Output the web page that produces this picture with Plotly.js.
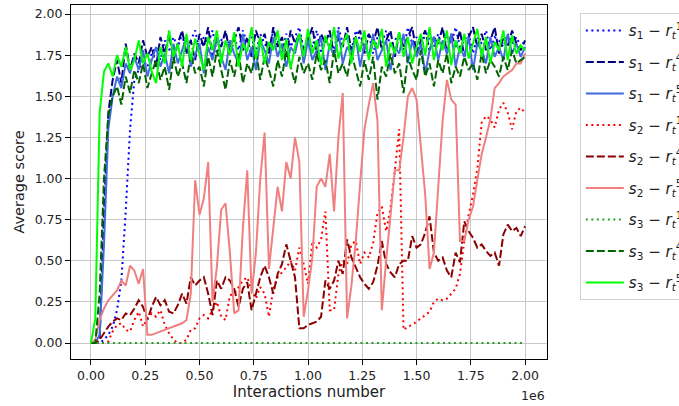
<!DOCTYPE html>
<html>
<head>
<meta charset="utf-8">
<script src="https://cdn.plot.ly/plotly-3.0.1.min.js"></script>
<style>html,body{margin:0;padding:0;background:#fff;overflow:hidden}#chart{width:679px;height:406px}</style>
</head>
<body>
<div id="chart"></div>
<script>
// Interactions (in units of 1e6)
const interactions = [
0,0.02,0.04,0.06,0.08,0.10,0.12,0.14,0.16,0.18,
0.20,0.22,0.24,0.26,0.28,0.30,0.32,0.34,0.36,0.38,
0.40,0.42,0.44,0.46,0.48,0.50,0.52,0.54,0.56,0.58,
0.60,0.62,0.64,0.66,0.68,0.70,0.72,0.74,0.76,0.78,
0.80,0.82,0.84,0.86,0.88,0.90,0.92,0.94,0.96,0.98,
1.00,1.02,1.04,1.06,1.08,1.10,1.12,1.14,1.16,1.18,
1.20,1.22,1.24,1.26,1.28,1.30,1.32,1.34,1.36,1.38,
1.40,1.42,1.44,1.46,1.48,1.50,1.52,1.54,1.56,1.58,
1.60,1.62,1.64,1.66,1.68,1.70,1.72,1.74,1.76,1.78,
1.80,1.82,1.84,1.86,1.88,1.90,1.92,1.94,1.96,1.98,
2.00];

const s1_r1 = [
0,0,0,0.02,0.05,0.10,0.20,0.38,0.80,1.30,
1.60,1.66,1.72,1.68,1.76,1.80,1.72,1.84,1.78,1.86,
1.80,1.88,1.76,1.84,1.90,1.78,1.86,1.82,1.90,1.76,
1.84,1.88,1.80,1.86,1.78,1.90,1.82,1.86,1.76,1.88,
1.82,1.78,1.90,1.84,1.76,1.88,1.80,1.86,1.92,1.78,
1.86,1.80,1.90,1.76,1.84,1.88,1.78,1.92,1.82,1.86,
1.78,1.90,1.84,1.80,1.88,1.76,1.86,1.82,1.90,1.80,
1.84,1.88,1.78,1.92,1.82,1.86,1.76,1.90,1.84,1.80,
1.88,1.78,1.86,1.82,1.92,1.80,1.84,1.88,1.76,1.86,
1.82,1.90,1.78,1.86,1.84,1.80,1.88,1.82,1.86,1.80,
1.84];

const s1_r4 = [
0,0,0.02,0.80,1.40,1.60,1.72,1.58,1.82,1.66,
1.76,1.70,1.84,1.74,1.80,1.68,1.86,1.76,1.88,1.72,
1.82,1.90,1.76,1.84,1.72,1.88,1.80,1.92,1.74,1.86,
1.80,1.90,1.76,1.84,1.92,1.78,1.86,1.74,1.90,1.82,
1.88,1.76,1.92,1.80,1.86,1.74,1.90,1.82,1.88,1.78,
1.84,1.92,1.76,1.88,1.82,1.90,1.74,1.86,1.80,1.92,
1.78,1.86,1.90,1.76,1.88,1.82,1.92,1.78,1.84,1.90,
1.74,1.88,1.80,1.86,1.92,1.76,1.84,1.90,1.78,1.86,
1.82,1.92,1.76,1.88,1.80,1.90,1.74,1.86,1.92,1.80,
1.88,1.78,1.84,1.92,1.76,1.86,1.80,1.90,1.82,1.78,
1.84];

const s1_r5 = [
0,0,0.05,0.60,1.30,1.50,1.62,1.55,1.70,1.64,
1.74,1.66,1.78,1.62,1.72,1.80,1.68,1.76,1.64,1.82,
1.70,1.78,1.86,1.68,1.75,1.82,1.64,1.80,1.72,1.86,
1.74,1.66,1.84,1.76,1.70,1.88,1.72,1.80,1.66,1.84,
1.78,1.70,1.86,1.74,1.82,1.68,1.80,1.76,1.88,1.70,
1.84,1.72,1.78,1.86,1.66,1.82,1.74,1.90,1.70,1.80,
1.76,1.86,1.68,1.82,1.74,1.88,1.72,1.78,1.84,1.66,
1.80,1.76,1.88,1.70,1.84,1.74,1.82,1.64,1.78,1.86,
1.72,1.84,1.76,1.88,1.68,1.80,1.74,1.86,1.66,1.82,
1.78,1.70,1.86,1.74,1.80,1.72,1.88,1.76,1.82,1.74,
1.80];

const s2_r1 = [
0,0,0,0,0.01,0.07,0.11,0.12,0.08,0.07,
0.14,0.19,0.10,0.15,0.18,0.16,0.20,0.11,0.06,0.02,
0.00,0.00,0.02,0.08,0.09,0.15,0.17,0.15,0.20,0.25,
0.16,0.14,0.29,0.30,0.34,0.38,0.40,0.32,0.27,0.34,
0.30,0.16,0.33,0.40,0.43,0.46,0.50,0.44,0.58,0.48,
0.36,0.62,0.58,0.63,0.80,0.20,0.20,0.42,0.50,0.48,
0.60,0.62,0.48,0.55,0.52,0.61,0.79,0.83,0.68,0.82,
1.05,1.30,0.08,0.10,0.11,0.13,0.15,0.17,0.19,0.25,
0.27,0.26,0.27,0.30,0.33,0.42,0.62,0.78,0.90,1.06,
1.34,1.38,1.36,1.31,1.42,1.46,1.40,1.30,1.41,1.43,
1.40];

const s2_r4 = [
0,0,0.02,0.06,0.10,0.13,0.15,0.14,0.18,0.17,
0.21,0.26,0.22,0.14,0.22,0.28,0.23,0.26,0.19,0.18,
0.23,0.30,0.24,0.40,0.35,0.38,0.40,0.30,0.17,0.38,
0.33,0.40,0.38,0.33,0.22,0.33,0.37,0.20,0.30,0.40,
0.47,0.40,0.30,0.42,0.48,0.60,0.50,0.40,0.09,0.09,
0.11,0.12,0.13,0.16,0.38,0.33,0.38,0.50,0.42,0.63,
0.52,0.46,0.40,0.36,0.33,0.37,0.47,0.62,0.48,0.43,
0.40,0.48,0.50,0.50,0.65,0.58,0.60,0.67,0.77,0.55,
0.50,0.52,0.44,0.40,0.55,0.49,0.74,0.68,0.64,0.58,
0.60,0.56,0.53,0.55,0.47,0.66,0.72,0.68,0.70,0.65,
0.71];

const s2_r5 = [
0,0.02,0.14,0.21,0.26,0.29,0.32,0.38,0.35,0.47,
0.44,0.36,0.45,0.05,0.05,0.06,0.07,0.08,0.09,0.10,
0.11,0.12,0.14,0.30,0.99,0.78,0.88,1.10,0.25,0.46,
0.81,0.85,0.55,0.18,0.20,0.70,1.05,0.30,0.55,1.00,
1.28,0.45,0.70,0.95,0.80,1.10,1.00,1.25,1.10,0.16,
0.32,0.52,0.95,1.00,0.95,1.15,0.80,1.25,1.52,0.15,
0.35,0.62,0.97,1.30,1.45,1.58,1.35,0.20,0.50,0.80,
1.05,1.05,1.25,1.50,1.55,1.48,1.20,0.90,0.45,0.55,
0.95,1.35,1.60,1.48,1.45,0.62,0.62,0.75,0.83,1.00,
1.15,1.25,1.36,1.55,1.58,1.62,1.64,1.66,1.70,1.70,
1.76];

const s3_r1 = [
0,0,0,0,0,0,0,0,0,0,
0,0,0,0,0,0,0,0,0,0,
0,0,0,0,0,0,0,0,0,0,
0,0,0,0,0,0,0,0,0,0,
0,0,0,0,0,0,0,0,0,0,
0,0,0,0,0,0,0,0,0,0,
0,0,0,0,0,0,0,0,0,0,
0,0,0,0,0,0,0,0,0,0,
0,0,0,0,0,0,0,0,0,0,
0,0,0,0,0,0,0,0,0,0,
0];

const s3_r4 = [
0,0,0.30,1.00,1.38,1.50,1.56,1.45,1.62,1.52,
1.66,1.58,1.70,1.55,1.64,1.72,1.60,1.68,1.54,1.74,
1.62,1.70,1.58,1.76,1.64,1.68,1.56,1.74,1.62,1.78,
1.66,1.54,1.72,1.62,1.76,1.58,1.70,1.64,1.78,1.60,
1.74,1.66,1.56,1.72,1.62,1.78,1.68,1.58,1.74,1.64,
1.70,1.60,1.76,1.66,1.72,1.58,1.78,1.64,1.70,1.62,
1.76,1.66,1.56,1.72,1.60,1.74,1.48,1.68,1.62,1.76,
1.64,1.70,1.52,1.74,1.66,1.60,1.78,1.62,1.70,1.56,
1.72,1.64,1.76,1.58,1.68,1.62,1.74,1.66,1.70,1.60,
1.76,1.64,1.72,1.68,1.62,1.74,1.66,1.78,1.70,1.72,
1.74];

const s3_r5 = [
0,0.15,1.40,1.65,1.70,1.62,1.75,1.68,1.80,1.66,
1.72,1.84,1.70,1.76,1.65,1.58,1.80,1.70,1.90,1.74,
1.82,1.68,1.88,1.72,1.85,1.76,1.66,1.86,1.78,1.90,
1.70,1.84,1.75,1.89,1.68,1.82,1.77,1.92,1.73,1.86,
1.70,1.83,1.78,1.90,1.72,1.85,1.67,1.80,1.88,1.74,
1.91,1.76,1.84,1.69,1.87,1.78,1.92,1.73,1.82,1.88,
1.70,1.86,1.77,1.90,1.72,1.84,1.79,1.91,1.68,1.83,
1.76,1.89,1.74,1.86,1.70,1.80,1.88,1.75,1.92,1.72,
1.85,1.78,1.90,1.69,1.84,1.76,1.88,1.73,1.82,1.91,
1.74,1.86,1.70,1.83,1.78,1.90,1.72,1.87,1.76,1.81,
1.78];

const xTickVals = [0,0.25,0.5,0.75,1.0,1.25,1.5,1.75,2.0];
const xTickText = ["0.00","0.25","0.50","0.75","1.00","1.25","1.50","1.75","2.00"];
const yTickVals = [0,0.25,0.5,0.75,1.0,1.25,1.5,1.75,2.0];
const yTickText = ["0.00","0.25","0.50","0.75","1.00","1.25","1.50","1.75","2.00"];

const seriesNames = [
  "<i>s</i><sub>1</sub> − <i>r</i><sub><i>t</i></sub><sup>1</sup>",
  "<i>s</i><sub>1</sub> − <i>r</i><sub><i>t</i></sub><sup>4</sup>",
  "<i>s</i><sub>1</sub> − <i>r</i><sub><i>t</i></sub><sup>5</sup>",
  "<i>s</i><sub>2</sub> − <i>r</i><sub><i>t</i></sub><sup>1</sup>",
  "<i>s</i><sub>2</sub> − <i>r</i><sub><i>t</i></sub><sup>4</sup>",
  "<i>s</i><sub>2</sub> − <i>r</i><sub><i>t</i></sub><sup>5</sup>",
  "<i>s</i><sub>3</sub> − <i>r</i><sub><i>t</i></sub><sup>1</sup>",
  "<i>s</i><sub>3</sub> − <i>r</i><sub><i>t</i></sub><sup>4</sup>",
  "<i>s</i><sub>3</sub> − <i>r</i><sub><i>t</i></sub><sup>5</sup>"
];
const seriesValues = [s1_r1, s1_r4, s1_r5, s2_r1, s2_r4, s2_r5, s3_r1, s3_r4, s3_r5];
const seriesColors = ["#0000ff","#000080","#4169e1","#ff0000","#8b0000","#f08080","#2a9d2a","#006400","#00ff00"];
const seriesDash = ["2px,3.5px","8px,3px","solid","2px,3.5px","8px,3px","solid","2px,3.5px","8px,3px","solid"];

const FONT = "DejaVu Sans, sans-serif";
const traces = seriesValues.map((vals, k) => ({
  type: "scatter", mode: "lines",
  x: interactions, y: vals,
  name: seriesNames[k],
  legendgroup: "g" + k,
  line: {color: seriesColors[k], width: 2, dash: seriesDash[k]}
}));

const layout = {
  width: 679, height: 406,
  margin: {l: 71, r: 132, t: 5, b: 47, pad: 0, autoexpand: false},
  paper_bgcolor: "#ffffff", plot_bgcolor: "#ffffff",
  font: {family: FONT, color: "#222"},
  showlegend: true,
  xaxis: {
    range: [-0.092, 2.101], tickvals: xTickVals, ticktext: xTickText,
    showgrid: true, gridcolor: "#c8c8c8", gridwidth: 1, zeroline: false,
    showline: true, mirror: true, linecolor: "#000", linewidth: 1,
    ticks: "outside", ticklen: 5, tickwidth: 1, tickcolor: "#000",
    tickfont: {family: FONT, size: 12.5, color: "#222"},
    automargin: false,
    title: {text: "Interactions number", font: {family: FONT, size: 15, color: "#222"}, standoff: 4}
  },
  yaxis: {
    range: [-0.097, 2.055], tickvals: yTickVals, ticktext: yTickText,
    showgrid: true, gridcolor: "#c8c8c8", gridwidth: 1, zeroline: false,
    showline: true, mirror: true, linecolor: "#000", linewidth: 1,
    ticks: "outside", ticklen: 5, tickwidth: 1, tickcolor: "#000",
    tickfont: {family: FONT, size: 12.5, color: "#222"},
    automargin: false,
    title: {text: "Average score", font: {family: FONT, size: 14.5, color: "#222"}, standoff: 6}
  },
  legend: {
    x: 1.069, xanchor: "left", y: 0.977, yanchor: "top",
    bgcolor: "#ffffff", bordercolor: "#d0d0d0", borderwidth: 1,
    font: {family: FONT, size: 15, color: "#222"},
    traceorder: "grouped", tracegroupgap: 9, itemwidth: 38
  },
  annotations: [{
    text: "1e6", xref: "paper", yref: "paper", x: 1, y: -0.102,
    xanchor: "right", yanchor: "middle", showarrow: false,
    font: {family: FONT, size: 12.5, color: "#222"}
  }]
};

Plotly.newPlot("chart", traces, layout, {staticPlot: true, displayModeBar: false});
</script>
</body>
</html>
